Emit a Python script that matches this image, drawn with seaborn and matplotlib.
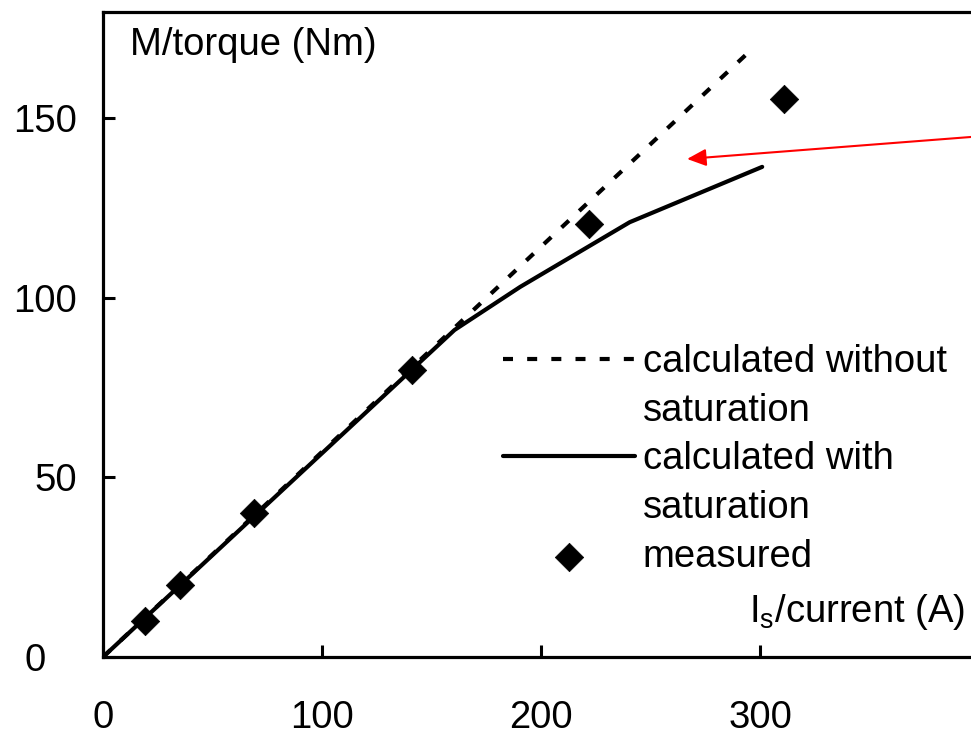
import pandas as pd
import matplotlib
matplotlib.use("Agg")
import matplotlib.pyplot as plt
from matplotlib.lines import Line2D
from matplotlib.transforms import ScaledTranslation
import seaborn as sns

# data
current_nosat = [0, 295.5]
torque_nosat = [0, 168.7]

current_sat = [0, 160.5, 190.5, 240.5, 301]
torque_sat = [0, 91.0, 103.0, 121.0, 136.4]

current_meas = [19, 35, 69, 141, 222, 311]
torque_meas = [10, 20, 40, 80, 120.5, 155.3]

xticks = [0, 100, 200, 300]
yticks = [0, 50, 100, 150]

sns.set_style("ticks", {"axes.edgecolor": "black", "text.color": "black",
                        "axes.labelcolor": "black", "xtick.color": "black",
                        "ytick.color": "black"})
plt.rcParams["font.family"] = ["Liberation Sans", "DejaVu Sans"]
plt.rcParams["mathtext.fontset"] = "custom"
plt.rcParams["mathtext.rm"] = "Liberation Sans"

df_nosat = pd.DataFrame({"I": current_nosat, "M": torque_nosat})
df_sat = pd.DataFrame({"I": current_sat, "M": torque_sat})
df_meas = pd.DataFrame({"I": current_meas, "M": torque_meas})

fig = plt.figure(figsize=(9.71, 7.36), dpi=100)
ax = fig.add_axes([0.10608, 0.10734, 0.90216, 0.87636])

sns.lineplot(data=df_nosat, x="I", y="M", ax=ax, color="black", lw=3,
             sort=False, estimator=None, label="calculated without")
ax.lines[-1].set_dashes([2.4, 3.4])
sns.lineplot(data=df_sat, x="I", y="M", ax=ax, color="black", lw=3,
             sort=False, estimator=None, label="calculated with")
sns.scatterplot(data=df_meas, x="I", y="M", ax=ax, color="black",
                marker="D", s=210, linewidth=0.5, edgecolor="black",
                label="measured", zorder=5)

ax.annotate("", xy=(266.7, 138.6), xytext=(415, 145.6), annotation_clip=False,
            arrowprops=dict(arrowstyle="-|>,head_length=1.15,head_width=0.52",
                            color="red", lw=1.5, shrinkA=0, shrinkB=0))

ax.set_xlim(0, 400)
ax.set_ylim(0, 179.5)
ax.set_xticks(xticks)
ax.set_yticks(yticks)

for s in ["left", "bottom", "top"]:
    ax.spines[s].set_linewidth(2.3)
ax.spines["right"].set_visible(False)
ax.tick_params(direction="in", length=8.6, width=2.2, labelsize=27.5,
               colors="black")
ax.tick_params(axis="x", pad=31)
ax.tick_params(axis="y", pad=19)

# the "0" on the y axis sits further left in the original
zero_lab = ax.get_yticklabels()[0]
zero_lab.set_transform(zero_lab.get_transform()
                       + ScaledTranslation(-0.31, 0, fig.dpi_scale_trans))

ax.set_xlabel(r"I$_\mathregular{s}$/current (A)", fontsize=27.5)
ax.xaxis.set_label_coords(0.984, 0.07)
ax.xaxis.label.set_ha("right")
ax.xaxis.label.set_va("center")

ax.set_ylabel("M/torque (Nm)", fontsize=27.5, rotation=0)
ax.yaxis.set_label_coords(0.031, 0.949)
ax.yaxis.label.set_ha("left")
ax.yaxis.label.set_va("center")

# legend: wrapped labels, handle on the first line of each entry
handles, labels = ax.get_legend_handles_labels()
blank = Line2D([], [], color="none")
leg_handles = [handles[0], blank, handles[1], blank, handles[2]]
leg_labels = [labels[0], "saturation", labels[1], "saturation", labels[2]]
ax.legend(leg_handles, leg_labels, loc="upper left",
          bbox_to_anchor=(0.457, 0.485), frameon=False, fontsize=27.5,
          handlelength=3.45, handletextpad=0.2, labelspacing=0.33,
          borderpad=0, borderaxespad=0)

fig.savefig("out.png", dpi=100)
